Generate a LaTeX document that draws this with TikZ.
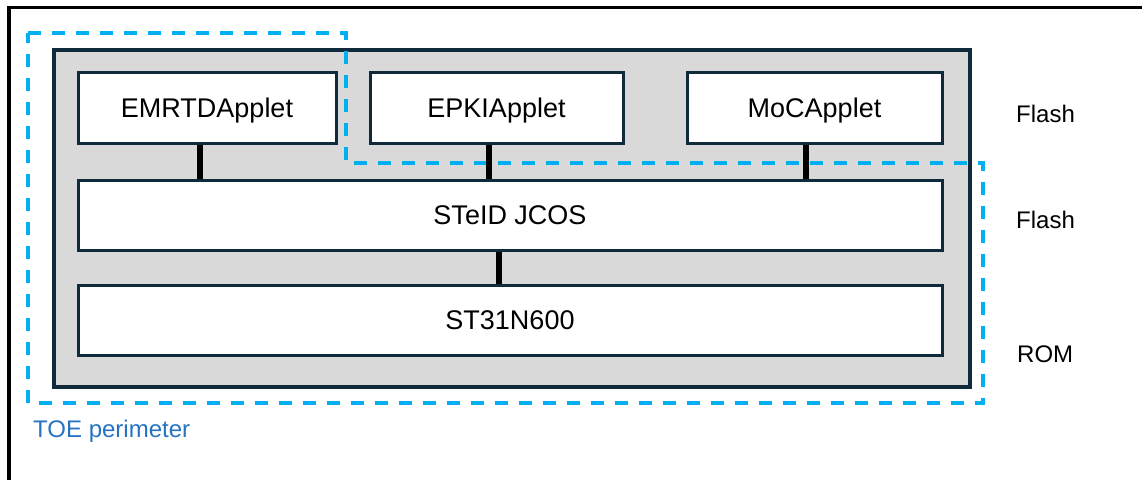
\documentclass[tikz,border=0pt]{standalone}
\usepackage{fontspec}
\setmainfont{Liberation Sans}
\usepackage{tikz}

\definecolor{navy}{HTML}{0F2A3A}
\definecolor{platgray}{HTML}{D9D9D9}
\definecolor{toeblue}{HTML}{00B0F0}
\definecolor{toetext}{HTML}{2673C2}

\begin{document}
\begin{tikzpicture}[x=1pt, y=-1pt,
    layer/.style={draw=navy, line width=3, fill=white, inner sep=0,
      minimum height=71, text height=19.5pt, text depth=0pt,
      font=\fontsize{27}{32}\selectfont},
    link/.style={line width=6, black},
    memlabel/.style={anchor=west, inner sep=0, font=\fontsize{24}{28}\selectfont}]
    \useasboundingbox (0, 0) rectangle (1142, 480);
    \draw[line width=3.5] (1142, 7.5) -- (9, 7.5) -- (9, 480);
    \node[draw=navy, line width=4, fill=platgray, minimum width=916, minimum height=337] (platform) at (512, 218.5) {};
    \node[layer, minimum width=258] (emrtd) at (207, 107.5) {EMRTDApplet};
    \node[layer, minimum width=253] (epki) at (496.5, 107.5) {EPKIApplet};
    \node[layer, minimum width=255] (moc) at (814.5, 107.5) {MoCApplet};
    \node[layer, minimum width=864, minimum height=70] (jcos) at (510, 215) {STeID JCOS};
    \node[layer, minimum width=864, minimum height=70] (st31) at (510, 320) {ST31N600};
    \draw[toeblue, line width=4, dash pattern=on 13 off 11] (28, 33) -- (346, 33) -- (346, 163) -- (983, 163) -- (983, 403) -- (28, 403) -- cycle;
    \draw[link] ([xshift=-7]emrtd.south) -- ([xshift=-7]emrtd.south |- jcos.north);
    \draw[link] ([xshift=-7.5]epki.south) -- ([xshift=-7.5]epki.south |- jcos.north);
    \draw[link] ([xshift=-8.5]moc.south) -- ([xshift=-8.5]moc.south |- jcos.north);
    \draw[link] ([xshift=-11]jcos.south) -- ([xshift=-11]jcos.south |- st31.north);
    \node[memlabel] (flashapp) at (1016, 114) {Flash};
    \node[memlabel] (flashos) at (1016, 220) {Flash};
    \node[memlabel] (rom) at (1017, 354) {ROM};
    \node[memlabel, text=toetext] (toe) at (33, 431) {TOE perimeter};
  \end{tikzpicture}
\end{document}
